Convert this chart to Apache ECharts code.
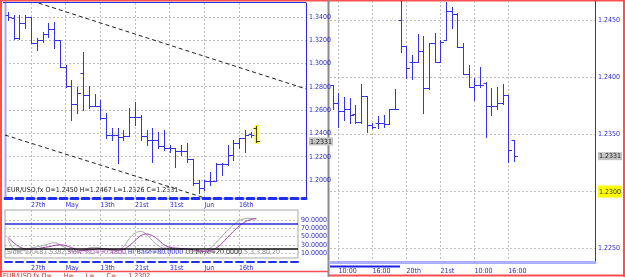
<!DOCTYPE html>
<html><head><meta charset="utf-8">
<script src="https://cdn.jsdelivr.net/npm/echarts@6/dist/echarts.min.js"></script>
<style>html,body{margin:0;padding:0;background:#fff;overflow:hidden}#c{width:625px;height:277px}</style>
</head><body><div id="c"></div>
<script>
// ---- Daily EUR/USD bars (left panel) ----
const dailyOpen  = [1.3415,1.3389,1.3218,1.3346,1.3398,1.3175,1.3200,1.3252,1.3295,1.3200,1.2969,1.2806,1.2652,1.2918,1.2729,1.2635,1.2635,1.2532,1.2386,1.2386,1.2369,1.2378,1.2541,1.2541,1.2378,1.2343,1.2343,1.2292,1.2275,1.2275,1.2249,1.2249,1.2181,1.1975,1.1932,1.1992,1.1992,1.2138,1.2138,1.2215,1.2318,1.2361,1.2395,1.2450];
const dailyHigh  = [1.3440,1.3415,1.3415,1.3415,1.3398,1.3218,1.3269,1.3346,1.3355,1.3200,1.2986,1.2858,1.2798,1.3098,1.2806,1.2738,1.2686,1.2575,1.2446,1.2446,1.2429,1.2617,1.2669,1.2558,1.2429,1.2446,1.2412,1.2429,1.2301,1.2275,1.2301,1.2318,1.2181,1.2001,1.2001,1.2069,1.2146,1.2146,1.2301,1.2343,1.2361,1.2429,1.2412,1.2467];
const dailyLow   = [1.3372,1.3209,1.3209,1.3303,1.3175,1.3115,1.3183,1.3226,1.3132,1.2969,1.2798,1.2515,1.2575,1.2600,1.2617,1.2635,1.2524,1.2361,1.2343,1.2146,1.2343,1.2378,1.2472,1.2343,1.2301,1.2155,1.2275,1.2258,1.2241,1.2112,1.2215,1.2155,1.1958,1.1889,1.1915,1.1958,1.1992,1.2044,1.2129,1.2172,1.2275,1.2241,1.2369,1.2326];
const dailyClose = [1.3398,1.3218,1.3346,1.3398,1.3175,1.3200,1.3252,1.3295,1.3200,1.2969,1.2806,1.2652,1.2746,1.2729,1.2635,1.2635,1.2532,1.2386,1.2386,1.2369,1.2378,1.2541,1.2541,1.2378,1.2343,1.2343,1.2292,1.2275,1.2275,1.2249,1.2249,1.2181,1.1975,1.1932,1.1992,1.1992,1.2138,1.2138,1.2215,1.2318,1.2361,1.2386,1.2386,1.2331];
const dailyTickIdx   = [4,10,16,22,28,34,40];
const dailyTickNames = ['27th','May','13th','21st','31st','Jun','16th'];
const dailyPriceTicks = [1.20,1.22,1.24,1.26,1.28,1.30,1.32,1.34];
const trendUpper = [[4.2,1.3535],[51.6,1.2781]];
const trendLower = [[-0.5,1.2386],[34.1,1.1846]];

// ---- Slow stochastic (lower left panel) ----
const stochK = [45,20,15,18,22,25,28,32,35,30,22,15,14,18,22,24,22,18,16,17,25,45,58,62,55,40,28,22,22,20,21,18,14,12,15,22,35,50,65,78,88,93,94,93];
const stochD = [48,35,25,20,19,20,23,25,28,30,28,23,18,16,17,19,21,20,18,17,19,28,40,52,56,52,42,30,24,22,21,20,18,15,14,16,22,33,48,62,75,85,91,93];
const stochTicks = [10,30,50,70,90];
const stochHi = 80, stochLo = 20;

// ---- Intraday bars (right panel) ----
const intraOpen  = [1.2393,1.2378,1.2371,1.2372,1.2368,1.2361,1.2384,1.2358,1.2360,1.2360,1.2359,1.2372,1.2450,1.2428,1.2414,1.2414,1.2423,1.2391,1.2430,1.2414,1.2433,1.2458,1.2456,1.2427,1.2403,1.2392,1.2393,1.2395,1.2375,1.2375,1.2378,1.2385,1.2345];
const intraHigh  = [1.2393,1.2386,1.2383,1.2382,1.2376,1.2394,1.2384,1.2360,1.2366,1.2367,1.2372,1.2390,1.2470,1.2428,1.2420,1.2438,1.2436,1.2430,1.2439,1.2433,1.2466,1.2462,1.2457,1.2430,1.2411,1.2400,1.2409,1.2396,1.2391,1.2392,1.2394,1.2385,1.2345];
const intraLow   = [1.2372,1.2357,1.2363,1.2360,1.2360,1.2360,1.2352,1.2356,1.2356,1.2357,1.2359,1.2372,1.2422,1.2400,1.2399,1.2414,1.2369,1.2390,1.2414,1.2414,1.2433,1.2443,1.2427,1.2403,1.2392,1.2380,1.2392,1.2348,1.2367,1.2372,1.2377,1.2326,1.2327];
const intraClose = [1.2378,1.2371,1.2372,1.2367,1.2361,1.2384,1.2358,1.2357,1.2360,1.2359,1.2372,1.2372,1.2428,1.2408,1.2414,1.2423,1.2391,1.2430,1.2414,1.2431,1.2458,1.2456,1.2427,1.2403,1.2392,1.2393,1.2393,1.2375,1.2375,1.2378,1.2385,1.2336,1.2331];
const intraTickIdx   = [1,7,13,19,25,31];
const intraTickNames = ['10:00','16:00','20th','21st','10:00','16:00'];
const intraPriceTicks = [1.2250,1.2300,1.2350,1.2400,1.2450];
const lastClose = 1.2331, cursorPrice = 1.2300;

// ---- build ----
const BLUE = '#3434e6', AXB = '#2a2ae0', LBL = '#2b2bd0';
const FONT = "'Liberation Sans Narrow','DejaVu Sans Condensed','Liberation Sans',sans-serif";
const toOhlc = (o,h,l,c) => o.map((v,i)=>[i,o[i],h[i],l[i],c[i]]);
const dailyData = toOhlc(dailyOpen,dailyHigh,dailyLow,dailyClose);
const intraData = toOhlc(intraOpen,intraHigh,intraLow,intraClose);
const stochKData = stochK.map((v,i)=>[i,v]);
const stochDData = stochD.map((v,i)=>[i,v]);

function ohlcRender(hiIdx){
  return function(params, api){
    const i = api.value(0);
    const o = api.coord([i, api.value(1)]);
    const h = api.coord([i, api.value(2)]);
    const l = api.coord([i, api.value(3)]);
    const c = api.coord([i, api.value(4)]);
    const x = Math.round(o[0]) + 0.5;
    const yo = Math.round(o[1]) + 0.5, yc = Math.round(c[1]) + 0.5;
    const ch = [];
    let col = BLUE;
    if (params.dataIndex === hiIdx) {
      ch.push({type:'rect', shape:{x:x-2, y:Math.round(h[1])-1, width:4, height:Math.round(l[1])-Math.round(h[1])+3}, style:{fill:'#ffff00'}});
      col = '#444400';
    }
    ch.push({type:'line', shape:{x1:x,y1:Math.round(h[1]),x2:x,y2:Math.round(l[1])+1}, style:{stroke:col,lineWidth:1}});
    ch.push({type:'line', shape:{x1:x-3,y1:yo,x2:x,y2:yo}, style:{stroke:col,lineWidth:1}});
    ch.push({type:'line', shape:{x1:x,y1:yc,x2:x+3.5,y2:yc}, style:{stroke:col,lineWidth:1}});
    return {type:'group', children:ch};
  };
}
const fmtIdx = (idx, names) => v => { const k = idx.indexOf(Math.round(v)); return k>=0 ? names[k] : ''; };
const gridLine = {show:true, lineStyle:{color:'#bdbdbd', type:[2,2], width:1}};

const chart = echarts.init(document.getElementById('c'), null, {renderer:'canvas'});
chart.setOption({
  animation:false,
  backgroundColor:'#ffffff',
  grid:[
    {left:5, top:3, width:301, height:195},
    {left:5, top:210, width:293, height:48, show:true, borderColor:'#a8a8a8', borderWidth:1, backgroundColor:'transparent'},
    {left:330, top:1, width:275, height:261}
  ],
  xAxis:[
    {type:'value', gridIndex:0, min:-0.5, max:51.58,
     axisLine:{show:true, onZero:false, lineStyle:{color:'#1f2ff0', width:3, type:[7,4]}},
     axisTick:{show:false, customValues:dailyTickIdx},
     axisLabel:{customValues:dailyTickIdx, formatter:fmtIdx(dailyTickIdx,dailyTickNames), color:LBL, fontSize:7, fontFamily:FONT, align:'left', margin:4, showMinLabel:true, showMaxLabel:true},
     splitLine:gridLine},
    {type:'value', gridIndex:1, min:-0.5, max:50.19, offset:4,
     axisLine:{show:true, onZero:false, lineStyle:{color:'#1f2ff0', width:2, type:[7,4]}},
     axisTick:{show:false, customValues:dailyTickIdx},
     axisLabel:{customValues:dailyTickIdx, formatter:fmtIdx(dailyTickIdx,dailyTickNames), color:LBL, fontSize:7, fontFamily:FONT, align:'left', margin:3},
     splitLine:gridLine},
    {type:'value', gridIndex:2, min:-0.5, max:46.3,
     axisLine:{show:true, onZero:false, lineStyle:{color:'#a9b0ff', width:3}},
     axisTick:{show:false, customValues:intraTickIdx},
     axisLabel:{customValues:intraTickIdx, formatter:fmtIdx(intraTickIdx,intraTickNames), color:LBL, fontSize:7, fontFamily:FONT, align:'left', margin:6},
     splitLine:gridLine}
  ],
  yAxis:[
    {type:'value', gridIndex:0, position:'right', min:1.1846, max:1.3518,
     axisLine:{show:true, onZero:false, lineStyle:{color:AXB, width:1}},
     axisTick:{show:false, customValues:dailyPriceTicks},
     axisLabel:{customValues:dailyPriceTicks.concat([lastClose]), margin:3, fontSize:7, fontFamily:FONT, color:LBL,
       formatter:v => Math.abs(v-lastClose)<1e-7 ? '{g|'+v.toFixed(4)+'}' : v.toFixed(4),
       rich:{g:{backgroundColor:'#c4c4c4', color:'#222', fontSize:7, fontFamily:FONT, padding:[1,1,0,1]}}},
     splitLine:gridLine},
    {type:'value', gridIndex:1, position:'right', min:-2, max:114,
     axisLine:{show:false},
     axisTick:{show:false, customValues:stochTicks},
     axisLabel:{customValues:stochTicks, margin:3, fontSize:7, fontFamily:FONT, color:LBL, formatter:v=>v.toFixed(4)},
     splitLine:gridLine},
    {type:'value', gridIndex:2, position:'right', min:1.22382, max:1.24671,
     axisLine:{show:true, onZero:false, lineStyle:{color:AXB, width:1}},
     axisTick:{show:false, customValues:intraPriceTicks},
     axisLabel:{customValues:intraPriceTicks.concat([lastClose]), margin:3, fontSize:7, fontFamily:FONT, color:LBL,
       formatter:v => Math.abs(v-lastClose)<1e-7 ? '{g|'+v.toFixed(4)+'}' : (Math.abs(v-cursorPrice)<1e-7 ? '{y|'+v.toFixed(4)+'}' : v.toFixed(4)),
       rich:{g:{backgroundColor:'#c4c4c4', color:'#222', fontSize:7, fontFamily:FONT, padding:[1,1,0,1]},
             y:{backgroundColor:'#ffff00', color:'#333', fontSize:7, fontFamily:FONT, padding:[3,1,2,1]}}},
     splitLine:gridLine}
  ],
  series:[
    {type:'line', xAxisIndex:0, yAxisIndex:0, data:trendUpper, symbol:'none', clip:true,
     lineStyle:{color:'#222', width:1, type:[4,3]}},
    {type:'line', xAxisIndex:0, yAxisIndex:0, data:trendLower, symbol:'none', clip:true,
     lineStyle:{color:'#222', width:1, type:[4,3]}},
    {type:'custom', xAxisIndex:0, yAxisIndex:0, data:dailyData, clip:true,
     encode:{x:0, y:[1,2,3,4]}, renderItem:ohlcRender(dailyData.length-1)},
    {type:'line', xAxisIndex:1, yAxisIndex:1, data:stochKData, symbol:'none', smooth:0.4,
     lineStyle:{color:'#a6a6a6', width:1}},
    {type:'line', xAxisIndex:1, yAxisIndex:1, data:stochDData, symbol:'none', smooth:0.4,
     lineStyle:{color:'#a03ca8', width:1},
     markLine:{silent:true, symbol:'none', label:{show:false},
       data:[{yAxis:stochHi, lineStyle:{color:'#2a2ad8', width:1.5, type:'solid'}},
             {yAxis:stochLo, lineStyle:{color:'#111', width:1.5, type:'solid'}}]}},
    {type:'custom', xAxisIndex:2, yAxisIndex:2, data:intraData, clip:true,
     encode:{x:0, y:[1,2,3,4]}, renderItem:ohlcRender(-1)}
  ],
  graphic:[
    {type:'line', shape:{x1:0,y1:0.5,x2:625,y2:0.5}, style:{stroke:'#ff5050', lineWidth:2}},
    {type:'line', shape:{x1:3,y1:2.5,x2:306,y2:2.5}, style:{stroke:'#3030e8', lineWidth:1}},
    {type:'line', shape:{x1:1,y1:0,x2:1,y2:277}, style:{stroke:'#ff5050', lineWidth:2}},
    {type:'line', shape:{x1:5.5,y1:3,x2:5.5,y2:197}, style:{stroke:'#a7a7f2', lineWidth:2}},
    {type:'line', shape:{x1:624,y1:0,x2:624,y2:277}, style:{stroke:'#ff5050', lineWidth:2}},
    {type:'line', shape:{x1:328.5,y1:0,x2:328.5,y2:277}, style:{stroke:'#8a8a8a', lineWidth:2}},
    {type:'line', shape:{x1:0,y1:271.5,x2:328,y2:271.5}, style:{stroke:'#ff5050', lineWidth:1.5}},
    {type:'line', shape:{x1:329,y1:275.5,x2:624,y2:275.5}, style:{stroke:'#ff5050', lineWidth:2}},
    {type:'rect', shape:{x:330, y:265.5, width:70, height:2}, style:{fill:'#1f1fe8'}},
    {type:'text', left:7, top:187, style:{text:'EUR/USD,fx O=1.2450 H=1.2467 L=1.2326 C=1.2331', fill:'#222', font:"7px "+FONT}},
    {type:'text', left:7, top:249, style:{text:'{k|Slow %K=87.5382} {d|Slow %D=90.4800} {h|Hi Base=80.0000} {l|LO Base=20.0000} {k|5,3,3,80,20}',
      font:"7px "+FONT, rich:{k:{fill:'#8a8a8a',font:"7px "+FONT}, d:{fill:'#a03ca8',font:"7px "+FONT}, h:{fill:'#2a2ad8',font:"7px "+FONT}, l:{fill:'#222',font:"7px "+FONT}}}},
    {type:'text', left:3, top:273, style:{text:'EUR/USD,fx O=      H=      L=      C=      1.2302', fill:'#c03030', font:"7px "+FONT}}
  ]
});
</script></body></html>
